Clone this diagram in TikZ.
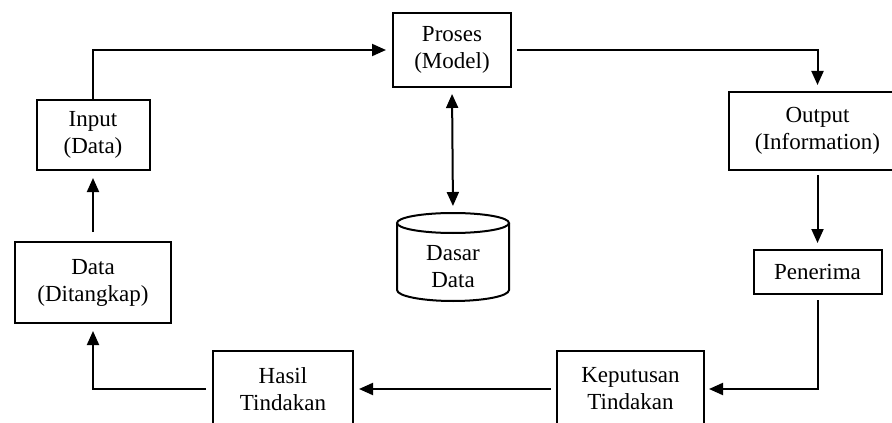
\documentclass[tikz,border=0pt]{standalone}
\usepackage{fontspec}
\setmainfont{Liberation Serif}
\usetikzlibrary{arrows.meta}
\begin{document}
\begin{tikzpicture}[x=0.5pt,y=-0.5pt,
  box/.style={draw, line width=1pt, inner sep=0pt, align=center,
    font=\fontsize{11.5}{13.5}\selectfont},
  arr/.style={line width=1pt, -{Triangle[length=7pt,width=6pt]}},
  link/.style={line width=1pt}]
\useasboundingbox (0,0) rectangle (892,422);
\clip (0,0) rectangle (892,422);

% process boxes
\node[box, minimum width=56.5pt, minimum height=35pt]   (input)  at (93,135)    {Input\\(Data)};
\node[box, minimum width=59pt,   minimum height=37pt]   (proses) at (452,50)    {Proses\\(Model)};
\node[box, minimum width=89pt,   minimum height=39pt]   (output) at (817.5,131) {Output\\(Information)};
\node[box, minimum width=64pt,   minimum height=22pt]   (terima) at (817.5,272) {Penerima};
\node[box, minimum width=73.5pt, minimum height=38pt]   (putus)  at (630.5,389) {Keputusan\\Tindakan};
\node[box, minimum width=70pt,   minimum height=38pt]   (hasil)  at (283,389)   {Hasil\\Tindakan};
\node[box, minimum width=78pt,   minimum height=40.5pt] (data)   at (93,282.5)  {Data\\(Ditangkap)};

% database cylinder
\node[box, draw=none, minimum width=56pt, minimum height=53.5pt] (db) at (453,266.5) {Dasar\\Data};
\draw[link] (453,223) ellipse [x radius=28pt, y radius=5pt];
\draw[link] (397,223) -- (397,290)
  arc [start angle=180, end angle=360, x radius=28pt, y radius=5.5pt]
  -- (509,223);

% connectors
\draw[arr, shorten >=3pt] (input.north) |- (proses.west);
\draw[arr, shorten <=2.5pt, shorten >=3pt] (proses.east) -| (output.north);
\draw[line width=1pt, {Triangle[length=7pt,width=6pt]}-{Triangle[length=7pt,width=6pt]},
  shorten <=3pt, shorten >=3pt] (proses.south) -- (db.north);
\draw[arr, shorten <=2pt, shorten >=3pt] (output.south) -- (terima.north);
\draw[arr, shorten <=2.5pt, shorten >=2pt] (terima.south) |- (putus.east);
\draw[arr, shorten <=2.5pt, shorten >=2.5pt] (putus.west) -- (hasil.east);
\draw[arr, shorten <=3pt, shorten >=3.5pt] (hasil.west) -| (data.south);
\draw[arr, shorten <=4.5pt, shorten >=3.5pt] (data.north) -- (input.south);
\end{tikzpicture}
\end{document}
